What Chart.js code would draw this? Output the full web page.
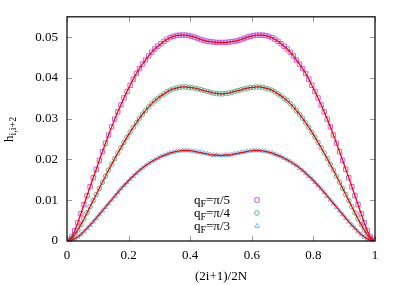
<!DOCTYPE html>
<html lang="en">
<head>
    <meta charset="UTF-8">
    <title>h(i,i+2) profile</title>
    <script src="https://cdn.jsdelivr.net/npm/chart.js"></script>
    <style>
        html, body { margin: 0; padding: 0; background: #fff; }
        #wrap { width: 407px; height: 285px; }
    </style>
</head>
<body>
<div id="wrap"><canvas id="hChart" width="407" height="285"></canvas></div>
<script>
// sites i = 0..99, plotted at (2i+1)/2N with N = 100
const N = 100;
const sites = Array.from({ length: N }, (_, i) => (2 * i + 1) / (2 * N));

// qF = pi/5 (squares)
const hPi5 = [
    0.0002, 0.0010, 0.0025, 0.0045, 0.0067, 0.0089, 0.0111, 0.0133, 0.0155, 0.0176,
    0.0198, 0.0219, 0.0240, 0.0260, 0.0280, 0.0299, 0.0317, 0.0334, 0.0351, 0.0367,
    0.0382, 0.0397, 0.0411, 0.0423, 0.0434, 0.0444, 0.0454, 0.0463, 0.0471, 0.0478,
    0.0484, 0.0490, 0.0495, 0.0499, 0.0502, 0.0504, 0.0505, 0.0505, 0.0505, 0.0504,
    0.0502, 0.0500, 0.0497, 0.0494, 0.0492, 0.0490, 0.0489, 0.0488, 0.0487, 0.0487,
    0.0487, 0.0487, 0.0488, 0.0489, 0.0490, 0.0492, 0.0494, 0.0497, 0.0500, 0.0502,
    0.0504, 0.0505, 0.0505, 0.0505, 0.0504, 0.0502, 0.0499, 0.0495, 0.0490, 0.0484,
    0.0478, 0.0471, 0.0463, 0.0454, 0.0444, 0.0434, 0.0423, 0.0411, 0.0397, 0.0382,
    0.0367, 0.0351, 0.0334, 0.0317, 0.0299, 0.0280, 0.0260, 0.0240, 0.0219, 0.0198,
    0.0176, 0.0155, 0.0133, 0.0111, 0.0089, 0.0067, 0.0045, 0.0025, 0.0010, 0.0002
];

// qF = pi/4 (circles)
const hPi4 = [
    0.0001, 0.0006, 0.0015, 0.0027, 0.0040, 0.0054, 0.0069, 0.0084, 0.0099, 0.0114,
    0.0129, 0.0144, 0.0159, 0.0174, 0.0188, 0.0202, 0.0216, 0.0229, 0.0242, 0.0255,
    0.0267, 0.0279, 0.0290, 0.0301, 0.0311, 0.0320, 0.0329, 0.0337, 0.0344, 0.0350,
    0.0356, 0.0361, 0.0366, 0.0370, 0.0373, 0.0375, 0.0377, 0.0378, 0.0378, 0.0377,
    0.0376, 0.0375, 0.0373, 0.0371, 0.0369, 0.0367, 0.0365, 0.0363, 0.0362, 0.0361,
    0.0361, 0.0362, 0.0363, 0.0365, 0.0367, 0.0369, 0.0371, 0.0373, 0.0375, 0.0376,
    0.0377, 0.0378, 0.0378, 0.0377, 0.0375, 0.0373, 0.0370, 0.0366, 0.0361, 0.0356,
    0.0350, 0.0344, 0.0337, 0.0329, 0.0320, 0.0311, 0.0301, 0.0290, 0.0279, 0.0267,
    0.0255, 0.0242, 0.0229, 0.0216, 0.0202, 0.0188, 0.0174, 0.0159, 0.0144, 0.0129,
    0.0114, 0.0099, 0.0084, 0.0069, 0.0054, 0.0040, 0.0027, 0.0015, 0.0006, 0.0001
];

// qF = pi/3 (triangles)
const hPi3 = [
    0.0000, 0.0002, 0.0005, 0.0010, 0.0016, 0.0023, 0.0031, 0.0039, 0.0047, 0.0056,
    0.0065, 0.0074, 0.0083, 0.0092, 0.0101, 0.0110, 0.0119, 0.0128, 0.0136, 0.0144,
    0.0152, 0.0159, 0.0166, 0.0173, 0.0179, 0.0185, 0.0190, 0.0195, 0.0199, 0.0203,
    0.0207, 0.0210, 0.0213, 0.0216, 0.0218, 0.0220, 0.0221, 0.0222, 0.0222, 0.0222,
    0.0221, 0.0220, 0.0218, 0.0217, 0.0215, 0.0214, 0.0212, 0.0211, 0.0211, 0.0210,
    0.0210, 0.0211, 0.0211, 0.0212, 0.0214, 0.0215, 0.0217, 0.0218, 0.0220, 0.0221,
    0.0222, 0.0222, 0.0222, 0.0221, 0.0220, 0.0218, 0.0216, 0.0213, 0.0210, 0.0207,
    0.0203, 0.0199, 0.0195, 0.0190, 0.0185, 0.0179, 0.0173, 0.0166, 0.0159, 0.0152,
    0.0144, 0.0136, 0.0128, 0.0119, 0.0110, 0.0101, 0.0092, 0.0083, 0.0074, 0.0065,
    0.0056, 0.0047, 0.0039, 0.0031, 0.0023, 0.0016, 0.0010, 0.0005, 0.0002, 0.0000
];

// theory curves go to zero at both ends of the chain
const edgeX = [0, 1];
const edgeH = 0;

const legendLabels = ["π/5", "π/4", "π/3"];
const xTicks = [0, 0.2, 0.4, 0.6, 0.8, 1];
const xTickLabels = ["0", "0.2", "0.4", "0.6", "0.8", "1"];
const yTicks = [0, 0.01, 0.02, 0.03, 0.04, 0.05];
const yTickLabels = ["0", "0.01", "0.02", "0.03", "0.04", "0.05"];

const FONT = "'Liberation Serif', 'Times New Roman', serif";
const markerColors = ["rgb(185,100,235)", "rgb(80,185,150)", "rgb(110,190,240)"];
const markerStyles = ["rect", "circle", "triangle"];
const markerRadius = [3.1, 2.3, 2.6];

function toPoints(values) {
    return values.map((v, i) => ({ x: sites[i], y: v }));
}

function toCurve(values) {
    return [{ x: edgeX[0], y: edgeH }, ...toPoints(values), { x: edgeX[1], y: edgeH }];
}

const series = [hPi5, hPi4, hPi3];
const datasets = [];

series.forEach((vals, k) => {
    datasets.push({
        label: "qF=" + legendLabels[k],
        data: toPoints(vals),
        showLine: false,
        pointStyle: markerStyles[k],
        pointRadius: markerRadius[k],
        pointBorderWidth: 1,
        pointBorderColor: markerColors[k],
        pointBackgroundColor: "rgba(0,0,0,0)",
        order: 2
    });
});
series.forEach((vals, k) => {
    datasets.push({
        label: "theory " + k,
        data: toCurve(vals),
        showLine: true,
        borderColor: "rgb(255,0,0)",
        borderWidth: 1.3,
        pointRadius: 0,
        tension: 0,
        order: 1
    });
});

// gnuplot-like frame: border, inward ticks on all sides, titles, legend
const framePlugin = {
    id: "frame",
    afterDraw(chart) {
        const { ctx, chartArea: a, scales } = chart;
        ctx.save();
        ctx.strokeStyle = "#999";
        ctx.lineWidth = 1;
        const tl = 5;
        xTicks.forEach(v => {
            const px = Math.round(scales.x.getPixelForValue(v)) + 0.5;
            ctx.beginPath();
            ctx.moveTo(px, a.bottom); ctx.lineTo(px, a.bottom - tl);
            ctx.moveTo(px, a.top); ctx.lineTo(px, a.top + tl);
            ctx.stroke();
        });
        yTicks.forEach(v => {
            const py = Math.round(scales.y.getPixelForValue(v)) + 0.5;
            ctx.beginPath();
            ctx.moveTo(a.left, py); ctx.lineTo(a.left + tl, py);
            ctx.moveTo(a.right, py); ctx.lineTo(a.right - tl, py);
            ctx.stroke();
        });

        ctx.strokeStyle = "#111";
        ctx.lineWidth = 1.3;
        ctx.strokeRect(a.left, a.top, a.right - a.left, a.bottom - a.top);

        ctx.fillStyle = "#000";
        ctx.textBaseline = "alphabetic";

        // x title
        ctx.font = "13px " + FONT;
        ctx.textAlign = "center";
        ctx.fillText("(2i+1)/2N", (a.left + a.right) / 2, 280);

        // y title, rotated
        ctx.save();
        ctx.translate(13, 142);
        ctx.rotate(-Math.PI / 2);
        ctx.textAlign = "left";
        ctx.font = "13px " + FONT;
        ctx.fillText("h", 0, 0);
        const hw = ctx.measureText("h").width;
        ctx.font = "10px " + FONT;
        ctx.fillText("i,i+2", hw, 3);
        ctx.restore();

        // legend
        const rows = [200, 213, 226];
        legendLabels.forEach((lab, k) => {
            const y = rows[k];
            ctx.font = "13px " + FONT;
            const rest = "=" + lab;
            const wRest = ctx.measureText(rest).width;
            const wq = ctx.measureText("q").width;
            ctx.font = "10px " + FONT;
            const wF = ctx.measureText("F").width;
            const right = 230;
            const x0 = right - wRest - wF - wq;
            ctx.textAlign = "left";
            ctx.font = "13px " + FONT;
            ctx.fillText("q", x0, y + 4);
            ctx.font = "10px " + FONT;
            ctx.fillText("F", x0 + wq, y + 7);
            ctx.font = "13px " + FONT;
            ctx.fillText(rest, x0 + wq + wF, y + 4);

            ctx.strokeStyle = markerColors[k];
            ctx.lineWidth = 1;
            const mx = 257, r = markerRadius[k];
            ctx.beginPath();
            if (markerStyles[k] === "rect") {
                const s = r * Math.SQRT1_2;
                ctx.rect(mx - s, y - s, 2 * s, 2 * s);
            } else if (markerStyles[k] === "circle") {
                ctx.arc(mx, y, r, 0, 2 * Math.PI);
            } else {
                const h = r * 1.5;
                ctx.moveTo(mx, y - r);
                ctx.lineTo(mx + h * 0.577, y + r * 0.5);
                ctx.lineTo(mx - h * 0.577, y + r * 0.5);
                ctx.closePath();
            }
            ctx.stroke();
        });
        ctx.restore();
    }
};

new Chart(document.getElementById("hChart").getContext("2d"), {
    type: "scatter",
    data: { datasets },
    options: {
        responsive: false,
        animation: false,
        events: [],
        layout: { padding: { left: 0, top: 16, right: 32, bottom: 0 } },
        plugins: { legend: { display: false }, tooltip: { enabled: false } },
        scales: {
            x: {
                type: "linear",
                min: 0,
                max: 1,
                grid: { display: false, drawTicks: false },
                border: { display: false },
                afterFit: s => { s.height = 44; },
                afterBuildTicks: s => { s.ticks = xTicks.map(v => ({ value: v })); },
                ticks: {
                    padding: 7,
                    color: "#000",
                    font: { family: FONT, size: 13 },
                    callback: (v) => xTickLabels[xTicks.indexOf(v)]
                }
            },
            y: {
                type: "linear",
                min: 0,
                max: 0.055,
                grid: { display: false, drawTicks: false },
                border: { display: false },
                afterFit: s => { s.width = 67; },
                afterBuildTicks: s => { s.ticks = yTicks.map(v => ({ value: v })); },
                ticks: {
                    padding: 9,
                    color: "#000",
                    font: { family: FONT, size: 13 },
                    callback: (v) => yTickLabels[yTicks.indexOf(v)]
                }
            }
        }
    },
    plugins: [framePlugin]
});
</script>
</body>
</html>
